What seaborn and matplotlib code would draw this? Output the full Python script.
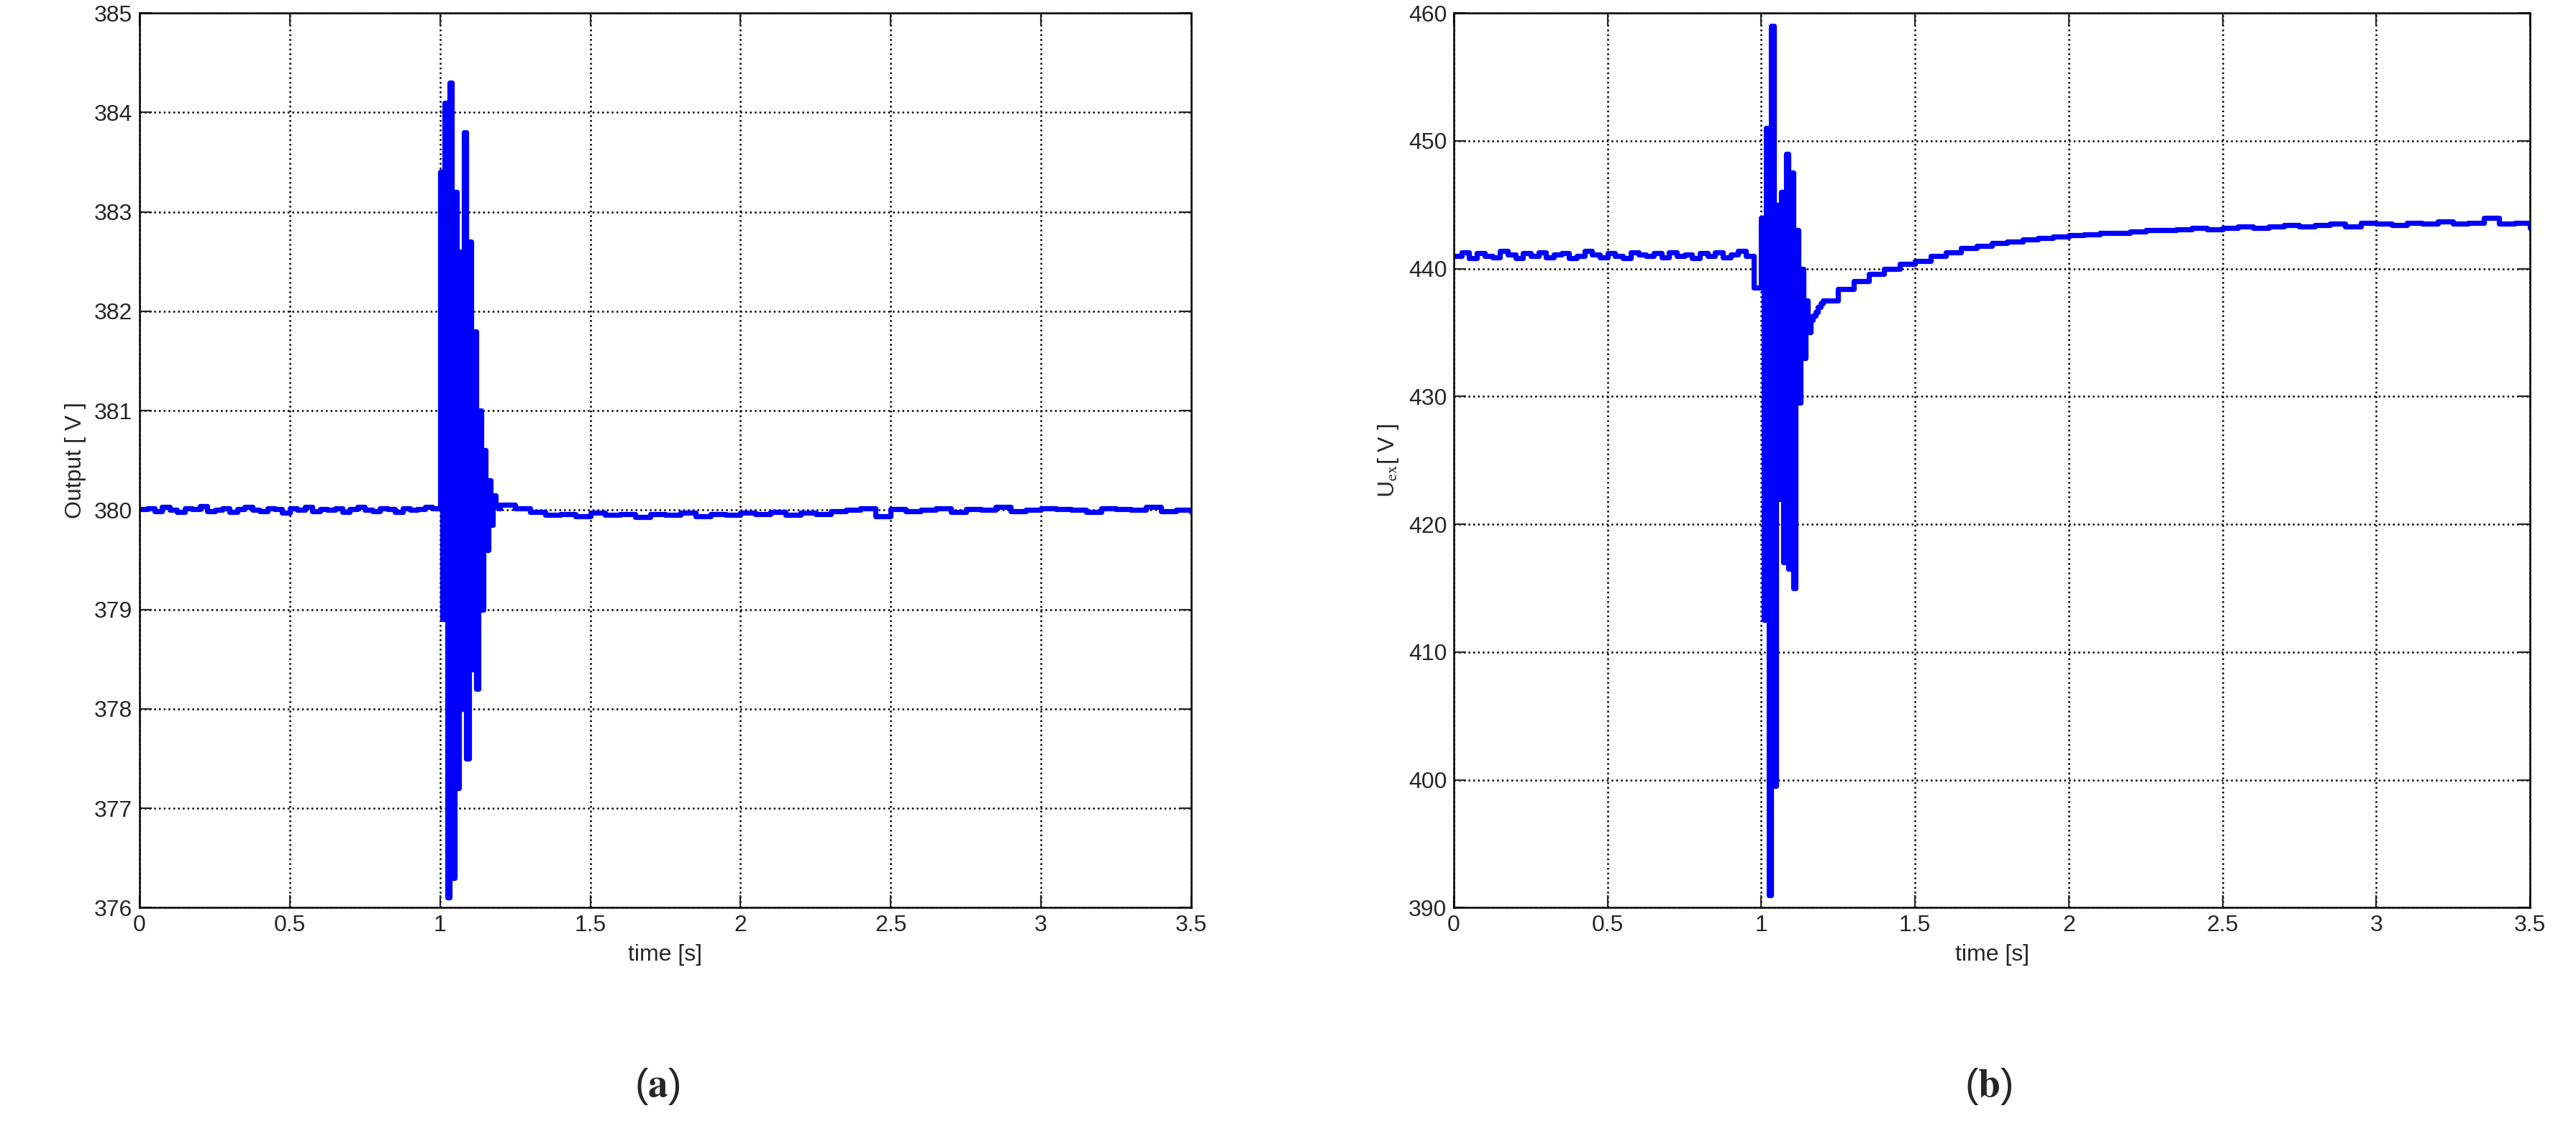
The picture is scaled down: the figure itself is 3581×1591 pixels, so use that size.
import numpy as np
import pandas as pd
import matplotlib
matplotlib.use("Agg")
import matplotlib.pyplot as plt
import seaborn as sns

sns.set_style("white")
plt.rcParams['font.family'] = ['Liberation Sans', 'DejaVu Sans']
plt.rcParams['mathtext.fontset'] = 'stix'

# ---- data: output voltage (a) ----
t_pre = np.arange(0, 1.0, 0.025)
out_pre = [380.01, 380.02, 379.99, 380.03, 380.00, 379.98, 380.02, 380.01, 380.04, 379.99,
           380.00, 380.02, 379.98, 380.01, 380.03, 380.00, 379.99, 380.02, 380.01, 379.97,
           380.02, 380.00, 380.03, 379.99, 380.01, 380.00, 380.02, 379.98, 380.01, 380.03,
           380.00, 379.99, 380.02, 380.01, 379.98, 380.02, 380.00, 380.01, 380.03, 380.02]
t_burst = np.arange(1.0, 1.2, 0.008)
out_burst = [383.4, 378.9, 384.1, 376.1, 384.3, 376.3, 383.2, 377.2, 382.6, 378.0,
             383.8, 377.5, 382.7, 378.4, 381.8, 378.2, 381.0, 379.0, 380.6, 379.6,
             380.3, 379.85, 380.15, 380.05, 380.02]
t_post = np.arange(1.2, 3.501, 0.05)
out_post = [380.05, 380.02, 379.98, 379.95, 379.96, 379.94, 379.97, 379.95, 379.96, 379.93,
            379.96, 379.95, 379.97, 379.94, 379.96, 379.95, 379.97, 379.96, 379.98, 379.95,
            379.97, 379.96, 379.99, 380.00, 380.02, 379.94, 380.01, 379.99, 380.00, 380.02,
            379.98, 380.01, 380.00, 380.03, 379.99, 380.00, 380.02, 380.01, 380.00, 379.98,
            380.02, 380.01, 380.00, 380.03, 379.99, 380.00, 379.98]

# ---- data: excitation voltage (b) ----
uex_pre = [441.0, 441.3, 440.8, 441.2, 441.0, 440.9, 441.4, 441.1, 440.8, 441.2,
           441.0, 441.3, 440.9, 441.1, 441.2, 440.8, 441.0, 441.4, 441.1, 440.9,
           441.2, 441.0, 440.8, 441.3, 441.1, 441.0, 441.2, 440.9, 441.3, 441.0,
           441.1, 440.8, 441.2, 441.0, 441.3, 440.9, 441.1, 441.4, 441.0, 438.5]
uex_burst = [444.0, 412.5, 451.0, 391.0, 459.0, 399.5, 445.0, 422.0, 446.0, 417.0,
             449.0, 416.5, 447.5, 415.0, 443.0, 429.5, 440.0, 433.0, 437.5, 435.0,
             436.0, 436.3, 436.6, 437.0, 437.3]
uex_post = [437.5, 438.4, 439.0, 439.6, 440.0, 440.4, 440.6, 441.0, 441.3, 441.6,
            441.8, 442.0, 442.1, 442.3, 442.4, 442.5, 442.6, 442.7, 442.8, 442.8,
            442.9, 443.0, 443.0, 443.1, 443.2, 443.1, 443.2, 443.3, 443.2, 443.3,
            443.4, 443.3, 443.4, 443.5, 443.3, 443.6, 443.5, 443.4, 443.6, 443.5,
            443.7, 443.5, 443.6, 444.0, 443.5, 443.6, 443.2]

t = np.concatenate([t_pre, t_burst, t_post])
df = pd.DataFrame({"time": t,
                   "out": out_pre + out_burst + out_post,
                   "uex": uex_pre + uex_burst + uex_post})

W, H = 3581, 1591
fig = plt.figure(figsize=(W / 200, H / 200), dpi=200)
ax1 = fig.add_axes([0.0542, 0.2066, 0.4082, 0.782])
ax2 = fig.add_axes([0.5644, 0.2066, 0.4177, 0.782])

blue = (0, 0, 1)
for ax, col, ylim, yticks in [(ax1, "out", (376, 385), np.arange(376, 386, 1)),
                              (ax2, "uex", (390, 460), np.arange(390, 461, 10))]:
    sns.lineplot(data=df, x="time", y=col, ax=ax, color=blue, linewidth=2.6,
                 drawstyle="steps-post", estimator=None)
    ax.set_xlim(0, 3.5)
    ax.set_ylim(*ylim)
    ax.set_xticks(np.arange(0, 3.51, 0.5))
    ax.set_xticklabels(["0", "0.5", "1", "1.5", "2", "2.5", "3", "3.5"])
    ax.set_yticks(yticks)
    ax.grid(True, color="black", linestyle=":", linewidth=0.9)
    ax.tick_params(direction="in", length=6, labelsize=11.5, top=True, right=True,
                   bottom=True, left=True)
    for s in ax.spines.values():
        s.set_color("black")
        s.set_linewidth(0.9)
    ax.set_xlabel("time [s]", fontsize=11.5, labelpad=4)

ax1.set_ylabel("Output [ V ]", fontsize=11.5)
ax2.set_ylabel(r"U$_{\rm ex}$[ V ]", fontsize=11.5)

fig.text(0.255, 0.05, r"($\mathbf{a}$)", fontsize=20, ha="center", va="center")
fig.text(0.772, 0.05, r"($\mathbf{b}$)", fontsize=20, ha="center", va="center")

fig.savefig("out.png", dpi=200, facecolor="white")
